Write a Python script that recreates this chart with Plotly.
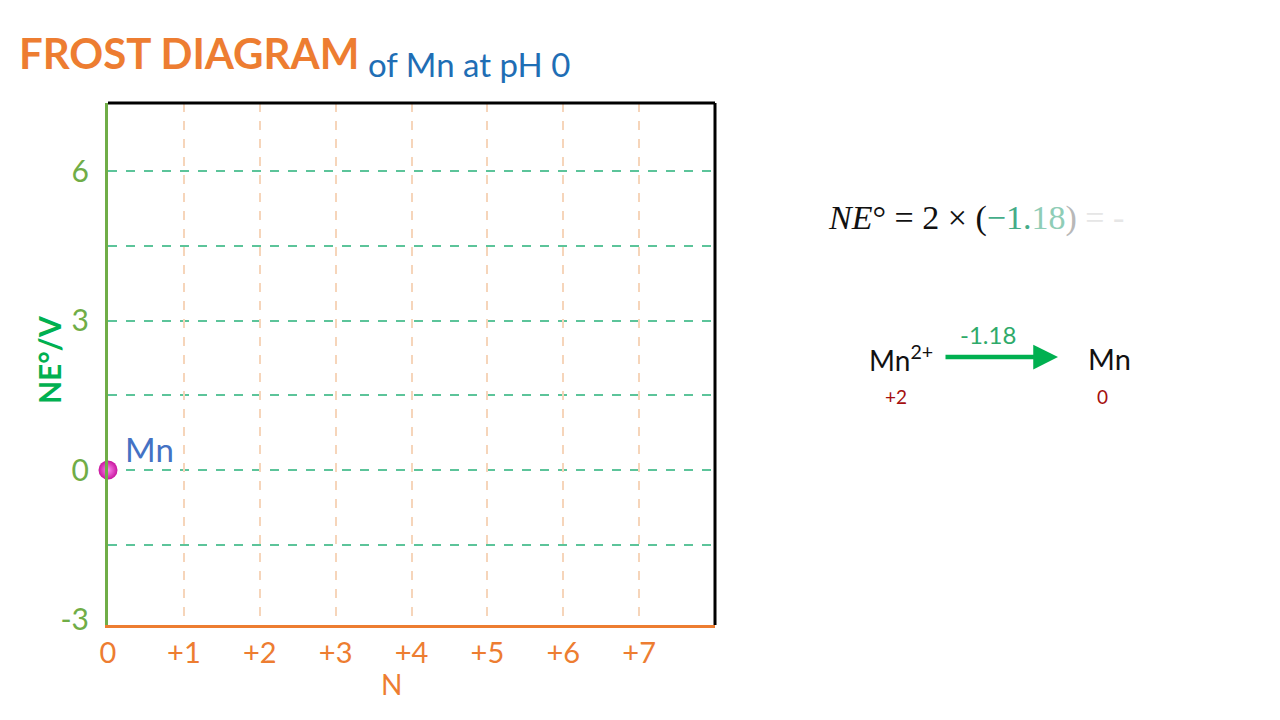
import plotly.graph_objects as go

# ---- data ----
species_x = [0]          # oxidation state N
species_y = [0]          # NE° / V
species_label = ["Mn"]

x_tickvals = [0, 1, 2, 3, 4, 5, 6, 7]
x_ticktext = ["0", "+1", "+2", "+3", "+4", "+5", "+6", "+7"]
y_tickvals = [-3, 0, 3, 6]
y_ticktext = ["-3", "0", "3", "6"]
y_gridvals = [-1.5, 0, 1.5, 3, 4.5, 6]

reaction_from = "Mn<sup>2+</sup>"
reaction_to = "Mn"
ox_from = "+2"
ox_to = "0"
e_std = -1.18
n_el = 2

# ---- layout helpers (pixel -> paper) ----
L, R, T, B = 108, 715, 103, 625
def px(x):
    return (x - L) / (R - L)
def py(y):
    return (B - y) / (B - T)

ORANGE = "#ED7D31"
LGREEN = "#70AD47"
GREEN = "#00B050"
FONT = "Lato"

fig = go.Figure()
fig.add_trace(go.Scatter(
    x=species_x, y=species_y, mode="markers",
    marker=dict(size=19, color="#C8159E",
                gradient=dict(type="radial", color="#FF8CF0"),
                line=dict(width=0)),
    cliponaxis=False, hoverinfo="skip", showlegend=False))

annotations = []
for xv, yv, lab in zip(species_x, species_y, species_label):
    annotations.append(dict(x=xv, y=yv, xref="x", yref="y", text=lab,
                            showarrow=False, xanchor="left", yanchor="middle",
                            xshift=15, yshift=21,
                            font=dict(family=FONT, size=33, color="#4472C4")))

# title
annotations.append(dict(x=px(17), y=py(53), xref="paper", yref="paper",
                        text="<b>FROST DIAGRAM</b>", showarrow=False,
                        xanchor="left", yanchor="middle",
                        font=dict(family=FONT, size=42, color=ORANGE)))
annotations.append(dict(x=px(366), y=py(64), xref="paper", yref="paper",
                        text="of Mn at pH 0", showarrow=False,
                        xanchor="left", yanchor="middle",
                        font=dict(family=FONT, size=33, color="#1F6EB5")))

# axis titles
annotations.append(dict(x=px(49), y=py(360), xref="paper", yref="paper",
                        text="<b>NE°/V</b>", showarrow=False, textangle=-90,
                        xanchor="center", yanchor="middle",
                        font=dict(family=FONT, size=30, color=GREEN)))
annotations.append(dict(x=px(391), y=py(684), xref="paper", yref="paper",
                        text="N", showarrow=False,
                        xanchor="center", yanchor="middle",
                        font=dict(family=FONT, size=28, color=ORANGE)))

# equation
eq = (f"<i>NE</i>° = {n_el} × ("
      f"<span style='color:#45AC88'>−1.</span>"
      f"<span style='color:#8FCDB6'>{str(abs(e_std))[2:]}</span>"
      f"<span style='color:#B8B8B8'>)</span>"
      f"<span style='color:#E6E6E6'> = -</span>")
annotations.append(dict(x=px(826), y=py(218), xref="paper", yref="paper",
                        text=eq, showarrow=False, xanchor="left", yanchor="middle",
                        font=dict(family="Liberation Serif", size=34, color="#111111")))

# reaction
annotations.append(dict(x=px(867), y=py(358), xref="paper", yref="paper",
                        text=reaction_from, showarrow=False, xanchor="left", yanchor="middle",
                        font=dict(family=FONT, size=28, color="#111111")))
annotations.append(dict(x=px(1086), y=py(358), xref="paper", yref="paper",
                        text=reaction_to, showarrow=False, xanchor="left", yanchor="middle",
                        font=dict(family=FONT, size=29, color="#111111")))
annotations.append(dict(x=px(896), y=py(396), xref="paper", yref="paper",
                        text=ox_from, showarrow=False, xanchor="center", yanchor="middle",
                        font=dict(family=FONT, size=19, color="#A50F0F")))
annotations.append(dict(x=px(1102), y=py(396), xref="paper", yref="paper",
                        text=ox_to, showarrow=False, xanchor="center", yanchor="middle",
                        font=dict(family=FONT, size=19, color="#A50F0F")))
annotations.append(dict(x=px(988), y=py(334), xref="paper", yref="paper",
                        text=f"{e_std:.2f}", showarrow=False, xanchor="center", yanchor="middle",
                        font=dict(family=FONT, size=24, color="#2EAA6A")))
annotations.append(dict(x=px(1058), y=py(357), xref="paper", yref="paper",
                        ax=-114, ay=0, text="", showarrow=True,
                        arrowhead=2, arrowsize=1.1, arrowwidth=4.5,
                        arrowcolor=GREEN, standoff=0, startstandoff=0))

shapes = [
    dict(type="line", xref="paper", yref="paper", x0=0, x1=1, y0=1, y1=1,
         line=dict(color="black", width=3), layer="above"),
    dict(type="line", xref="paper", yref="paper", x0=1, x1=1, y0=0, y1=1,
         line=dict(color="black", width=3), layer="above"),
]

fig.update_layout(
    width=1280, height=720,
    margin=dict(l=L, r=1280 - R, t=T, b=720 - B),
    paper_bgcolor="white", plot_bgcolor="white",
    annotations=annotations, shapes=shapes,
    xaxis=dict(range=[0, 8], tickvals=x_tickvals, ticktext=x_ticktext,
               showline=True, linecolor=ORANGE, linewidth=3,
               showgrid=True, gridcolor="#F6D5BA", griddash="dash", gridwidth=1.5,
               zeroline=False, ticks="", ticklabelstandoff=0,
               tickfont=dict(family=FONT, size=29, color=ORANGE)),
    yaxis=dict(range=[-3.11, 7.37], tickvals=y_tickvals, ticktext=y_ticktext,
               showline=True, linecolor=LGREEN, linewidth=3,
               showgrid=False, zeroline=False, ticks="", ticklabelstandoff=10,
               tickfont=dict(family=FONT, size=30, color=LGREEN),
               minor=dict(tickvals=y_gridvals, showgrid=True, gridcolor="#5CC49A",
                          griddash="dash", gridwidth=1.5, ticks="")),
)

fig.write_html("out.html")
